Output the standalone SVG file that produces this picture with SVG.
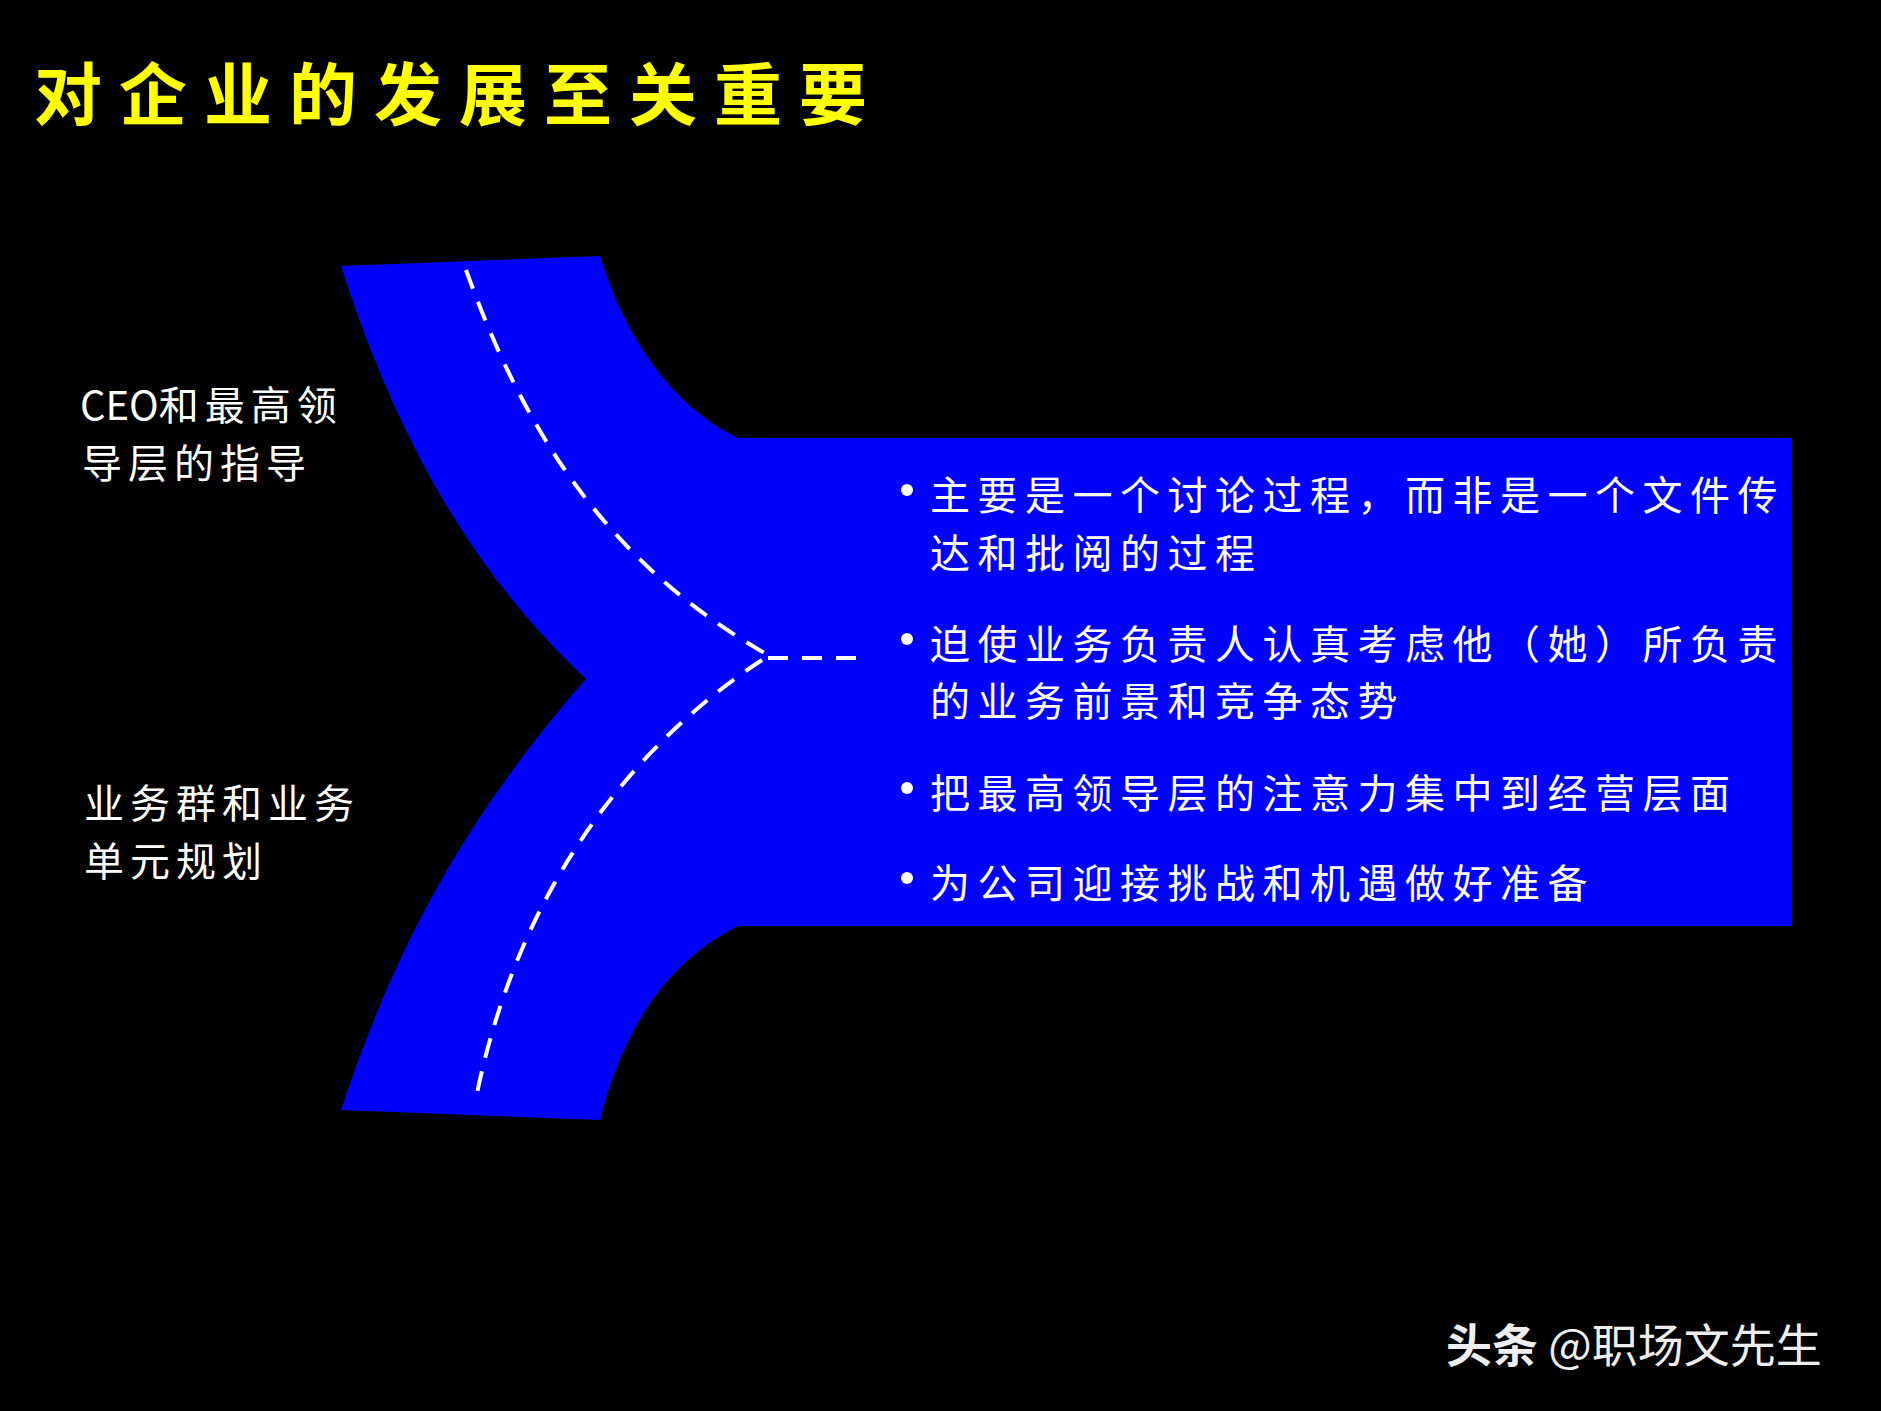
<svg xmlns="http://www.w3.org/2000/svg" width="1881" height="1411" viewBox="0 0 1881 1411">
<style>
.t{font-family:"Noto Sans CJK SC","Liberation Sans",sans-serif;fill:#fff}
.b{font-size:40px;letter-spacing:7.5px}
.l{font-size:40px;letter-spacing:6px}
.d{fill:none;stroke:#fff;stroke-width:4;stroke-dasharray:20 14}
</style>
<rect width="1881" height="1411" fill="#000"/>
<text id="title" x="34" y="120" class="t" style="font-size:68px;letter-spacing:17px;fill:#ffff00;font-weight:bold">对企业的发展至关重要</text>
<g id="shape"><path d="M341,266 L600,256 C620,320 660,400 738,438 L1792,438 L1792,926 L738,926 C660,965 620,1040 600,1120 L341,1110 C400,930 480,800 586,679 C480,580 400,450 341,266 Z" fill="#0000ff"/></g>
<g id="connectors">
<path class="d" d="M466,270 C520,420 600,560 768,655"/>
<path class="d" d="M768,658 L858,658"/>
<path class="d" d="M762,660 C640,740 520,880 476,1098"/>
</g>
<g id="labels">
<text x="80" y="420" class="t l"><tspan letter-spacing="0">CEO</tspan>和最高领</text>
<text x="82" y="478" class="t l">导层的指导</text>
<text x="84" y="818" class="t l">业务群和业务</text>
<text x="84" y="876" class="t l">单元规划</text>
</g>
<g id="bullets" class="t b">
<circle cx="907" cy="490" r="6" fill="#fff"/><text x="930" y="510">主要是一个讨论过程，而非是一个文件传</text>
<text x="930" y="568">达和批阅的过程</text>
<circle cx="907" cy="639" r="6" fill="#fff"/><text x="930" y="659">迫使业务负责人认真考虑他（她）所负责</text>
<text x="930" y="716">的业务前景和竞争态势</text>
<circle cx="907" cy="788" r="6" fill="#fff"/><text x="930" y="808">把最高领导层的注意力集中到经营层面</text>
<circle cx="907" cy="878" r="6" fill="#fff"/><text x="930" y="898">为公司迎接挑战和机遇做好准备</text>
</g>
<text id="wm" x="1446" y="1362" class="t" style="font-size:46px;fill:#eee"><tspan font-weight="bold">头条</tspan> @职场文先生</text>
</svg>
